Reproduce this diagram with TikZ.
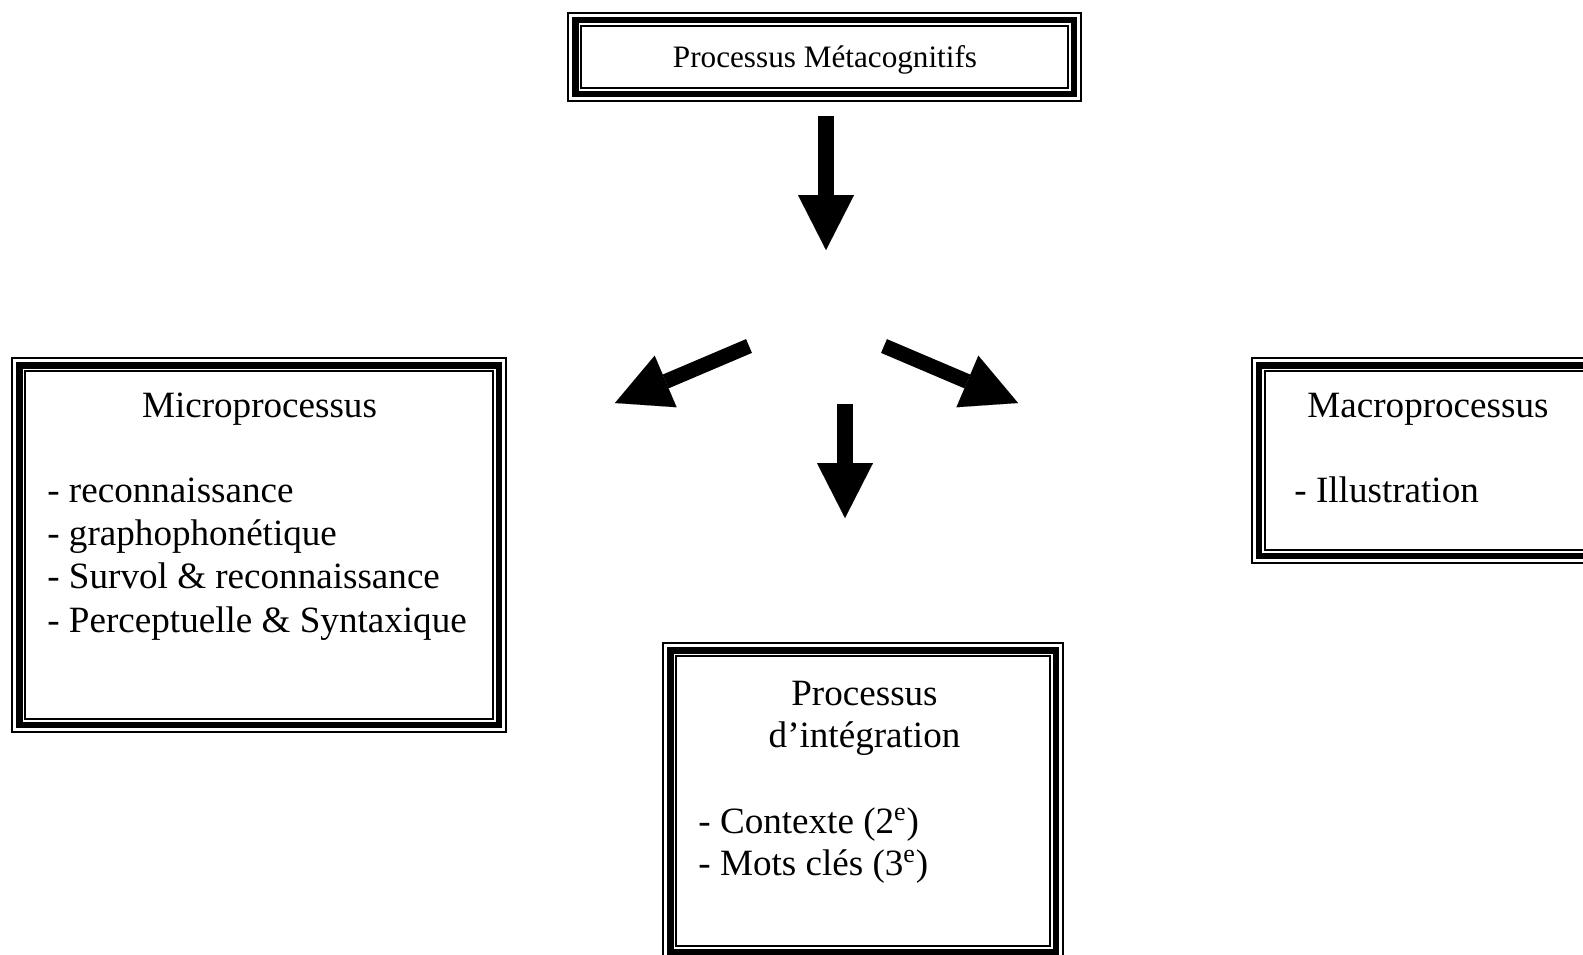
\documentclass[tikz,border=0pt]{standalone}
\usepackage{fontspec}
\setmainfont{Liberation Serif}
\usetikzlibrary{arrows.meta,calc}
\tikzset{
  thickbox/.style={draw=black, line width=3.25pt, rectangle, inner sep=0pt, outer sep=0pt, fill=none},
  bigtxt/.style={font=\fontsize{18.55pt}{21.5pt}\selectfont, inner sep=0pt},
  smalltxt/.style={font=\fontsize{15.6pt}{19pt}\selectfont, inner sep=0pt},
  bigarrow/.style={line width=8pt, -{Triangle[length=27.5pt, width=28pt, line width=0.01pt]}},
}
% outer thin and inner thin lines around a box node
\newcommand\triborder[1]{%
  \draw[line width=1.2pt] ([shift={(-7.2,-7.2)}]#1.north west) rectangle ([shift={(7.2,7.2)}]#1.south east);
  \draw[line width=1pt] ([shift={(6.2,6.2)}]#1.north west) rectangle ([shift={(-6.2,-6.2)}]#1.south east);
}
\begin{document}
\begin{tikzpicture}[x=0.5pt, y=-0.5pt]
\useasboundingbox (0,0) rectangle (1583,954);
\clip (0,0) rectangle (1583,954);

% ---- boxes (thick line = node border) ----
\node[thickbox, minimum width=249.25pt, minimum height=37pt] (top) at (824.5,57) {};
\triborder{top}
\node[thickbox, minimum width=239.75pt, minimum height=179.75pt] (micro) at (259,545) {};
\triborder{micro}
\node[thickbox, minimum width=176pt, minimum height=95.25pt] (macro) at (1435,460.5) {};
\triborder{macro}
\node[thickbox, minimum width=192.75pt, minimum height=150.75pt] (integ) at (863,801) {};
\triborder{integ}

% ---- texts ----
\node[smalltxt, anchor=base] (ttop) at (825,67) {Processus Métacognitifs};

\node[bigtxt, anchor=base] (tmicro) at (259.5,417) {Microprocessus};
\node[bigtxt, anchor=base west] (m1) at (47,502) {- reconnaissance};
\node[bigtxt, anchor=base west] (m2) at (47,545) {- graphophonétique};
\node[bigtxt, anchor=base west] (m3) at (47,588) {- Survol \& reconnaissance};
\node[bigtxt, anchor=base west] (m4) at (47,632) {- Perceptuelle \& Syntaxique};

\node[bigtxt, anchor=base west] (tmacro) at (1307,417) {Macroprocessus};
\node[bigtxt, anchor=base west] (a1) at (1294,502) {- Illustration};

\node[bigtxt, anchor=base] (tint1) at (864.5,705) {Processus};
\node[bigtxt, anchor=base] (tint2) at (864.5,747) {d’intégration};
\node[bigtxt, anchor=base west] (i1) at (698,833) {- Contexte (2\textsuperscript{e})};
\node[bigtxt, anchor=base west] (i2) at (698,875) {- Mots clés (3\textsuperscript{e})};

% ---- arrows ----
\coordinate (s0) at (826,116);  \coordinate (e0) at (826,250);
\coordinate (s1) at (749,346);  \coordinate (e1) at (615,403);
\coordinate (s2) at (884,346);  \coordinate (e2) at (1018,403);
\coordinate (s3) at (845,404);  \coordinate (e3) at (845,518);
\draw[bigarrow] (s0) -- (e0);
\draw[bigarrow, line width=7.5pt] (s1) -- (e1);
\draw[bigarrow, line width=7.5pt] (s2) -- (e2);
\draw[bigarrow] (s3) -- (e3);
\end{tikzpicture}
\end{document}
